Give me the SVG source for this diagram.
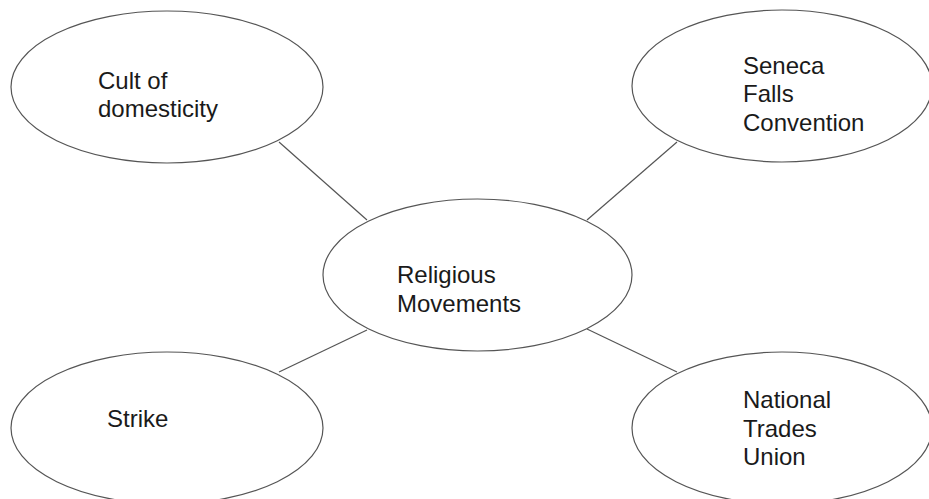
<svg xmlns="http://www.w3.org/2000/svg" width="929" height="499" viewBox="0 0 929 499">
<style>
.n{fill:#fff;stroke:#555;stroke-width:1.2}
.c{stroke:#555;stroke-width:1.2;fill:none}
text{font-family:"Liberation Sans",Arial,sans-serif;font-size:24px;fill:#1a1a1a}
</style>
<rect width="929" height="499" fill="#fff"/>
<g id="connectors">
<line class="c" x1="279" y1="142" x2="367" y2="220"/>
<line class="c" x1="677" y1="142" x2="587" y2="220"/>
<line class="c" x1="367" y1="330" x2="279" y2="372"/>
<line class="c" x1="587" y1="329" x2="677" y2="372"/>
</g>
<g id="cult">
<ellipse class="n" cx="167" cy="87" rx="156" ry="76"/>
<text x="98" y="89">Cult of</text>
<text x="98" y="117">domesticity</text>
</g>
<g id="seneca">
<ellipse class="n" cx="782" cy="86" rx="150" ry="76"/>
<text x="743" y="74">Seneca</text>
<text x="743" y="102">Falls</text>
<text x="743" y="131">Convention</text>
</g>
<g id="religious">
<ellipse class="n" cx="477.5" cy="275" rx="154.5" ry="76"/>
<text x="397" y="283">Religious</text>
<text x="397" y="312">Movements</text>
</g>
<g id="strike">
<ellipse class="n" cx="167" cy="428" rx="156" ry="76"/>
<text x="107" y="427">Strike</text>
</g>
<g id="ntu">
<ellipse class="n" cx="782" cy="428" rx="150" ry="76"/>
<text x="743" y="408">National</text>
<text x="743" y="437">Trades</text>
<text x="743" y="465">Union</text>
</g>
</svg>
